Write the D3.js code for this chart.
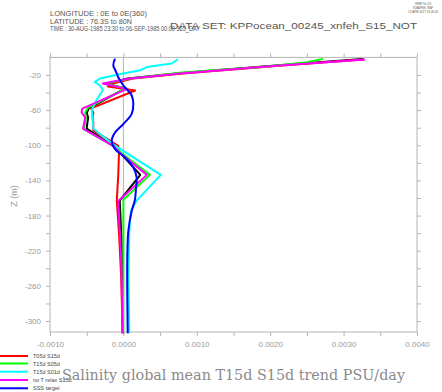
<!DOCTYPE html>
<html><head><meta charset="utf-8">
<script src="https://cdn.jsdelivr.net/npm/d3@7"></script>
<style>body{margin:0;background:#fff}svg{display:block}</style>
</head><body>
<script>
// ---- data (depth in m, trend in PSU/day) ----
const xTicks = [-0.0010,-0.0005,0.0000,0.0005,0.0010,0.0015,0.0020,0.0025,0.0030,0.0035,0.0040];
const xTickLabels = ["-0.0010","","0.0000","","0.0010","","0.0020","","0.0030","","0.0040"];
const yTicks = [-20,-40,-60,-80,-100,-120,-140,-160,-180,-200,-220,-240,-260,-280,-300];
const yTickLabels = ["-20","","-60","","-100","","-140","","-180","","-220","","-260","","-300"];

const depthBlack = [-1.7,-9,-18,-24,-30,-35.4,-58,-62.9,-68.6,-74,-81,-100.6,-108,-133.7,-163,-200,-250,-314];
const valBlack   = [0.00326,0.00212,0.00076,0.00006,-0.00023,0.00002,-0.00047,-0.0005,-0.00048,-0.00049,-0.0005,-0.00014,-0.00005,0.00023,-0.00005,-0.00003,-0.00001,-0.00001];

const depthRed = [-2.3,-9.1,-18.3,-24,-30,-33,-37.7,-58,-62.9,-68.6,-74,-83,-100.6,-108,-134,-163,-200,-250,-314];
const valRed   = [0.00328,0.00216,0.00081,0.00013,-0.00016,-0.00021,0.00016,-0.00044,-0.00041,-0.00042,-0.00041,-0.00041,-0.00007,-0.00006,-0.00007,-0.00009,-0.00006,-0.00003,-0.00001];

const depthGreen = [-1.7,-5.4,-11,-14.5,-17.5,-24,-30,-35,-57,-62.5,-70,-81.5,-100.6,-108,-133.7,-162,-314];
const valGreen   = [0.00272,0.0025,0.0019,0.00122,0.00077,0.0001,-0.00026,0.00004,-0.00048,-0.00052,-0.00051,-0.00054,-0.00014,-0.00004,0.00036,0.0,0.0];

const depthCyan = [-2.3,-7,-11,-14.6,-18.5,-24,-28,-32,-37,-49,-60,-70,-81,-99,-133.7,-163,-175,-198,-250,-314];
const valCyan   = [0.00074,0.00066,0.00032,0.00023,-0.00002,-0.00032,-0.00039,-0.00032,-0.00028,-0.00037,-0.00043,-0.00042,-0.00041,-0.00014,0.00051,0.00018,0.0001,0.00008,0.00007,0.00008];

const depthMagenta = [-2.3,-9.1,-18.3,-24,-29.7,-35.8,-58.3,-62.5,-68.2,-81.1,-100.6,-108.6,-133.7,-163.4,-230,-314];
const valMagenta   = [0.00329,0.00213,0.00077,0.00009,-0.00028,0.00005,-0.00056,-0.00057,-0.00052,-0.00055,-0.00014,-0.00005,0.00032,-0.00007,-0.00003,-0.00001];

const depthBlue = [-1.5,-9.1,-14.9,-22.5,-32,-43.4,-52.9,-64.3,-75.8,-85.4,-94.9,-104.3,-113.9,-125.4,-136.8,-148.2,-161.5,-174.9,-197.7,-228.2,-314];
const valBlue   = [-0.000114,-0.000138,-0.000108,-0.00007,0.0,0.000113,0.000135,0.000113,0.0,-0.000114,-0.000159,-0.000114,0.000022,0.000135,0.000181,0.000172,0.000158,0.000113,0.000067,0.000053,0.000059];

const seriesNames = ["T15d S15d","T05d S15d","T15d S05d","T15d S01d","no T relax S15d","SSS target"];
const seriesColors = ["#000000","#ff0000","#00ff00","#00ffff","#ff00ff","#0000ff"];
const seriesDepths = [depthBlack,depthRed,depthGreen,depthCyan,depthMagenta,depthBlue];
const seriesValues = [valBlack,valRed,valGreen,valCyan,valMagenta,valBlue];
const legendIdx = [1,2,3,4,5];

const W = 442, H = 392;
const svg = d3.select("body").append("svg").attr("width",W).attr("height",H);

const x = d3.scaleLinear().domain([-0.001,0.004]).range([50,417]);
const y = d3.scaleLinear().domain([0,-312.5]).range([57.4,332]);
const axisCol = "#b4b4b4", labCol = "#9a9a9a";

// zero line
svg.append("line").attr("x1",x(0)).attr("x2",x(0)).attr("y1",y.range()[0]).attr("y2",y.range()[1])
  .attr("stroke",axisCol).attr("stroke-width",1);

// axes
function styleAxis(g){
  g.select(".domain").remove();
  g.selectAll(".tick line").attr("stroke",axisCol);
  g.selectAll(".tick text").attr("fill",labCol).style("font-family","'Liberation Sans',Arial,sans-serif").style("font-size","8px");
}
svg.append("g").attr("transform",`translate(0,${y.range()[1]})`)
  .call(d3.axisBottom(x).tickValues(xTicks).tickSize(4).tickPadding(5).tickFormat((d,i)=>xTickLabels[i])).call(styleAxis);
svg.append("g").attr("transform",`translate(0,${y.range()[0]})`)
  .call(d3.axisTop(x).tickValues(xTicks).tickSize(4).tickFormat("")).call(styleAxis);
svg.append("g").attr("transform",`translate(${x.range()[0]},0)`)
  .call(d3.axisLeft(y).tickValues(yTicks).tickSize(4).tickPadding(5).tickFormat((d,i)=>yTickLabels[i])).call(styleAxis);
svg.append("g").attr("transform",`translate(${x.range()[1]},0)`)
  .call(d3.axisRight(y).tickValues(yTicks).tickSize(4).tickFormat("")).call(styleAxis);

svg.append("rect").attr("x",x.range()[0]).attr("y",y.range()[0])
  .attr("width",x.range()[1]-x.range()[0]).attr("height",y.range()[1]-y.range()[0])
  .attr("fill","none").attr("stroke",axisCol).attr("stroke-width",1);

// series
const line = d3.line().x(d=>x(d[1])).y(d=>y(d[0]));
const lineSmooth = d3.line().x(d=>x(d[1])).y(d=>y(d[0])).curve(d3.curveCatmullRom);
seriesDepths.forEach((dep,i)=>{
  const pts = dep.map((d,j)=>[d,seriesValues[i][j]]);
  svg.append("path").attr("d",(i===5?lineSmooth:line)(pts))
    .attr("fill","none").attr("stroke",seriesColors[i]).attr("stroke-width",2)
    .attr("stroke-linejoin","round");
});

// y label
svg.append("text").attr("transform","translate(17,196) rotate(-90)").attr("text-anchor","middle")
  .attr("fill",labCol).style("font-family","'Liberation Sans',Arial,sans-serif").style("font-size","9px").text("Z (m)");

// header
const hdr = svg.append("g").attr("fill","#555").style("font-family","'Liberation Sans',Arial,sans-serif");
hdr.append("text").attr("x",50).attr("y",16).style("font-size","7.5px").attr("textLength",97).attr("lengthAdjust","spacingAndGlyphs").text("LONGITUDE : 0E to 0E(360)");
hdr.append("text").attr("x",50).attr("y",23.5).style("font-size","7.5px").attr("textLength",82).attr("lengthAdjust","spacingAndGlyphs").text("LATITUDE : 76.3S to 80N");
hdr.append("text").attr("x",50).attr("y",30.5).style("font-size","7.5px").attr("textLength",150).attr("lengthAdjust","spacingAndGlyphs").text("TIME : 30-AUG-1985 23:30 to 06-SEP-1985 00:00 365_DAY");
hdr.append("text").attr("x",170).attr("y",29).style("font-size","8.5px").attr("textLength",247).attr("lengthAdjust","spacingAndGlyphs").text("DATA SET: KPPocean_00245_xnfeh_S15_NOT");
const fer = svg.append("g").attr("fill","#555").attr("text-anchor","middle").style("font-family","'Liberation Sans',Arial,sans-serif").style("font-size","4.2px");
fer.append("text").attr("x",423).attr("y",4.5).attr("textLength",16).attr("lengthAdjust","spacingAndGlyphs").text("FERRET Ver. 6.93");
fer.append("text").attr("x",423).attr("y",8.5).attr("textLength",20).attr("lengthAdjust","spacingAndGlyphs").text("NOAA/PMEL TMAP");
fer.append("text").attr("x",423).attr("y",12.5).attr("textLength",30).attr("lengthAdjust","spacingAndGlyphs").text("12-APR-2017 15:26:04");

// legend
const lg = svg.append("g");
const legY = [356,363.5,371.7,380,388.3];
legendIdx.forEach((si,k)=>{
  lg.append("line").attr("x1",0).attr("x2",28).attr("y1",legY[k]).attr("y2",legY[k])
    .attr("stroke",seriesColors[si]).attr("stroke-width",2);
  lg.append("text").attr("x",33).attr("y",legY[k]+2).attr("fill","#444")
    .style("font-family","'Liberation Sans',Arial,sans-serif").style("font-size","5.5px").text(seriesNames[si]);
});

// title
svg.append("text").attr("x",233.5).attr("y",380).attr("text-anchor","middle").attr("fill","#8a8a8a")
  .style("font-family","'DejaVu Serif','Liberation Serif',serif").style("font-size","14px")
  .attr("textLength",343).attr("lengthAdjust","spacingAndGlyphs")
  .text("Salinity global mean T15d S15d trend PSU/day");
</script>
</body></html>
